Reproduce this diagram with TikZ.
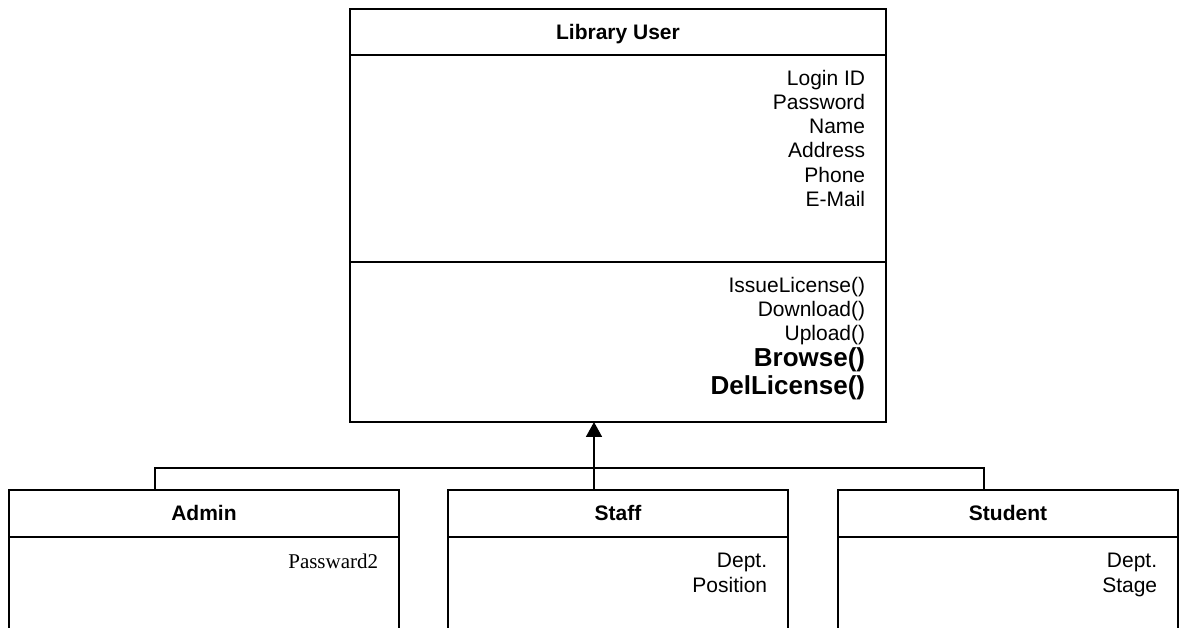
\documentclass[tikz,border=0pt]{standalone}
\usepackage{fontspec}
\setmainfont{Liberation Sans}
\newfontfamily\timesf{Liberation Serif}
\usetikzlibrary{arrows.meta,calc}
\begin{document}
\begin{tikzpicture}[x=1pt,y=-1pt,line width=1.7pt,
  classbox/.style={draw,rectangle,inner sep=0pt,outer sep=0pt,anchor=north west},
  ttl/.style={anchor=base,inner sep=0pt,font=\bfseries\fontsize{21}{24}\selectfont},
  attr/.style={anchor=base east,inner sep=0pt,font=\fontsize{21}{24}\selectfont},
  battr/.style={anchor=base east,inner sep=0pt,font=\bfseries\fontsize{26}{30}\selectfont},
  conn/.style={line width=1.7pt}]
\useasboundingbox (0,0) rectangle (1179,628);
\clip (0,0) rectangle (1179,628);
% main class
\node[classbox,minimum width=536pt,minimum height=413pt] (lu) at (350,9) {};
\draw ([yshift=-46pt]lu.north west) -- ([yshift=-46pt]lu.north east);
\draw ([yshift=-253pt]lu.north west) -- ([yshift=-253pt]lu.north east);
\node[ttl] (lut) at (618,40) {Library User};
\node[attr] (a1) at (866,86) {Login ID};
\node[attr] (a2) at (866,110) {Password};
\node[attr] (a3) at (866,134) {Name};
\node[attr] (a4) at (866,158) {Address};
\node[attr] (a5) at (866,183) {Phone};
\node[attr] (a6) at (866,207) {E-Mail};
\node[attr] (m1) at (866,293) {IssueLicense()};
\node[attr] (m2) at (866,317) {Download()};
\node[attr] (m3) at (866,341) {Upload()};
\node[battr] (m4) at (866,367) {Browse()};
\node[battr] (m5) at (866,395) {DelLicense()};
% sub classes
\node[classbox,minimum width=390pt,minimum height=200pt] (admin) at (9,490) {};
\node[classbox,minimum width=340pt,minimum height=200pt] (staff) at (448,490) {};
\node[classbox,minimum width=340pt,minimum height=200pt] (student) at (838,490) {};
\foreach \b in {admin,staff,student}{
  \draw ([yshift=-47pt]\b.north west) -- ([yshift=-47pt]\b.north east);
}
\node[ttl] (admint) at (204,520) {Admin};
\node[ttl] (stafft) at (618,520) {Staff};
\node[ttl] (studentt) at (1008,520) {Student};
\node[attr,font=\timesf\fontsize{21}{24}\selectfont] (ad1) at (379,568) {Passward2};
\node[attr] (st1) at (768,567) {Dept.};
\node[attr] (st2) at (768,592) {Position};
\node[attr] (su1) at (1158,567) {Dept.};
\node[attr] (su2) at (1158,592) {Stage};
% generalization connectors
\draw[conn] ([xshift=146pt]admin.north west) -- ++(0,-22) -| ([xshift=146pt]student.north west);
\draw[conn,-{Triangle[length=15pt,width=16pt]}] ([xshift=146pt]staff.north west) -- ([xshift=244pt]lu.south west);
\end{tikzpicture}
\end{document}
